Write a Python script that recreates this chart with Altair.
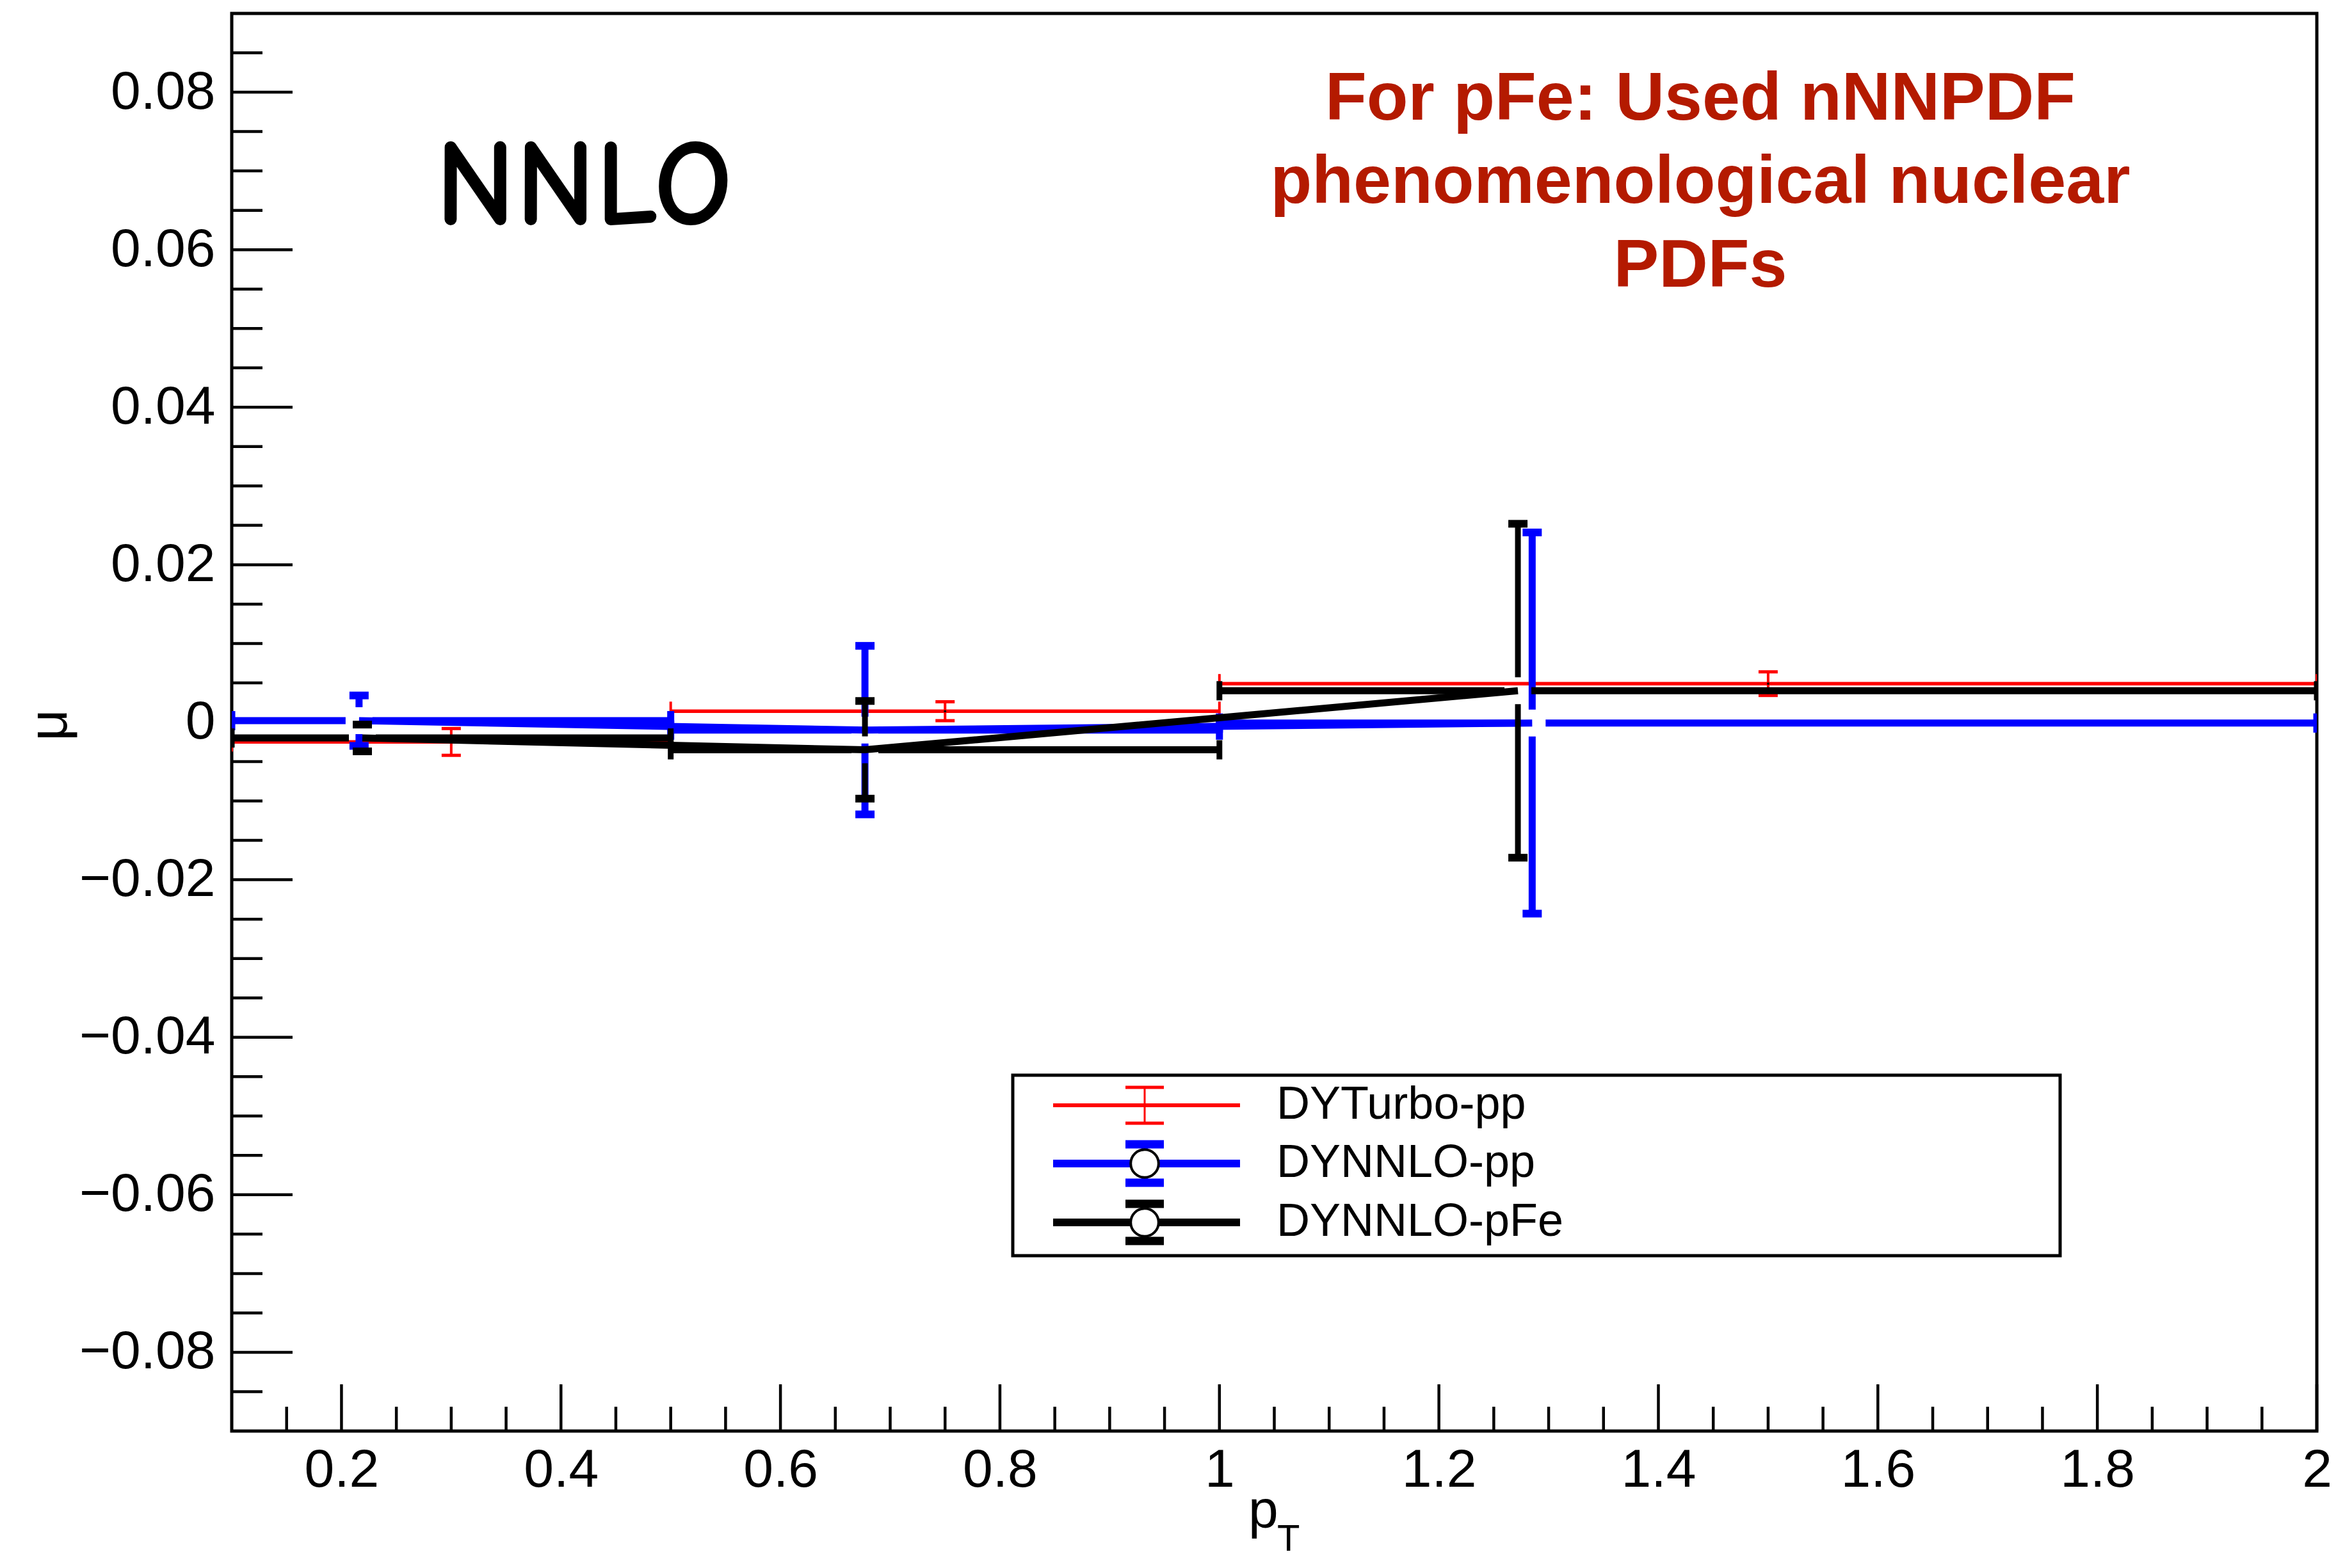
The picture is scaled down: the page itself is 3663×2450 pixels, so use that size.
import altair as alt
import pandas as pd

# ---------------- data ----------------
bin_lo = [0.1, 0.5, 1.0]
bin_hi = [0.5, 1.0, 2.0]

turbo_pp_x = [0.300, 0.750, 1.500]
turbo_pp_y = [-0.0025, 0.0014, 0.0049]
turbo_pp_err = [0.0017, 0.0012, 0.0015]

nnlo_pp_x = [0.216, 0.677, 1.285]
nnlo_pp_y = [0.0002, -0.0010, -0.0001]
nnlo_pp_err = [0.0032, 0.0107, 0.0242]

nnlo_pfe_x = [0.219, 0.677, 1.272]
nnlo_pfe_y = [-0.0020, -0.0035, 0.0040]
nnlo_pfe_err = [0.0017, 0.0062, 0.0212]

series_names = ["DYTurbo-pp", "DYNNLO-pp", "DYNNLO-pFe"]
series_colors = ["#ff0000", "#0000ff", "#000000"]

x_major = [0.2, 0.4, 0.6, 0.8, 1.0, 1.2, 1.4, 1.6, 1.8, 2.0]
x_minor = [0.15, 0.25, 0.3, 0.35, 0.45, 0.5, 0.55, 0.65, 0.7, 0.75, 0.85, 0.9,
           0.95, 1.05, 1.1, 1.15, 1.25, 1.3, 1.35, 1.45, 1.5, 1.55, 1.65, 1.7,
           1.75, 1.85, 1.9, 1.95]
y_major = [-0.08, -0.06, -0.04, -0.02, 0.0, 0.02, 0.04, 0.06, 0.08]
y_minor = [-0.085, -0.075, -0.07, -0.065, -0.055, -0.05, -0.045, -0.035, -0.03,
           -0.025, -0.015, -0.01, -0.005, 0.005, 0.01, 0.015, 0.025, 0.03, 0.035,
           0.045, 0.05, 0.055, 0.065, 0.07, 0.075, 0.085]

note_lines = ["For pFe: Used nNNPDF", "phenomenological nuclear", "PDFs"]
label_text = "NNLO"
x_title = "p"
x_title_sub = "T"
y_title = "μ"

# ---------------- layout / style ----------------
W, H = 3257, 2215
X_DOM = [0.1, 2.0]
Y_DOM = [-0.09, 0.09]
FONT = "Liberation Sans, Arial, Helvetica, sans-serif"
xs = alt.Scale(domain=X_DOM, nice=False, zero=False)
ys = alt.Scale(domain=Y_DOM, nice=False, zero=False)

GAP_PX = 21
gx = GAP_PX / W * (X_DOM[1] - X_DOM[0])
gy = GAP_PX / H * (Y_DOM[1] - Y_DOM[0])

styles = [
    dict(hw=5.5, vw=4, capt=5, caps=30, connect=False, gap=False, dot=True),
    dict(hw=11, vw=11, capt=12, caps=30, connect=True, gap=True, dot=False),
    dict(hw=11, vw=9, capt=12, caps=30, connect=True, gap=True, dot=False),
]
series_data = [
    (turbo_pp_x, turbo_pp_y, turbo_pp_err),
    (nnlo_pp_x, nnlo_pp_y, nnlo_pp_err),
    (nnlo_pfe_x, nnlo_pfe_y, nnlo_pfe_err),
]

# shared axes (identical object on every layer so they merge)
y_axis = alt.Axis(values=y_major,
                  labelExpr="datum.value == 0 ? '0' : format(datum.value, '.2f')",
                  labelFont=FONT, labelFontSize=84, labelColor="black",
                  labelPadding=26, ticks=False, domain=False, grid=False,
                  title=None, labelFlush=False, labelOverlap=False, labelLimit=600)
x_axis = alt.Axis(values=x_major,
                  labelExpr="format(datum.value, '.1~f')",
                  labelFont=FONT, labelFontSize=84, labelColor="black",
                  labelPadding=20, ticks=False, domain=False, grid=False,
                  title=None, labelFlush=False, labelOverlap=False, labelLimit=600)


def X(field):
    return alt.X(field, scale=xs, axis=x_axis)


def Y(field):
    return alt.Y(field, scale=ys, axis=y_axis)


layers = []

# ---------------- inward ticks (ROOT style) ----------------
layers.append(alt.Chart(pd.DataFrame({"v": y_major})).mark_rule(color="black", strokeWidth=4.5).encode(
    y=Y("v:Q"), x=alt.value(0), x2=alt.value(95)))
layers.append(alt.Chart(pd.DataFrame({"v": y_minor})).mark_rule(color="black", strokeWidth=4.5).encode(
    y=Y("v:Q"), x=alt.value(0), x2=alt.value(48)))
layers.append(alt.Chart(pd.DataFrame({"v": x_major})).mark_rule(color="black", strokeWidth=4.5).encode(
    x=X("v:Q"), y=alt.value(H), y2=alt.value(H - 73)))
layers.append(alt.Chart(pd.DataFrame({"v": x_minor})).mark_rule(color="black", strokeWidth=4.5).encode(
    x=X("v:Q"), y=alt.value(H), y2=alt.value(H - 38)))

# ---------------- data series ----------------
for name, color, st, (sx, sy, se) in zip(series_names, series_colors, styles, series_data):
    h_rows, v_rows, ycap_rows, xcap_rows, pt_rows = [], [], [], [], []
    for i, (x, y, e, lo, hi) in enumerate(zip(sx, sy, se, bin_lo, bin_hi)):
        if st["gap"]:
            h_rows += [dict(x1=lo, x2=x - gx, y=y), dict(x1=x + gx, x2=hi, y=y)]
            if e > gy:
                v_rows += [dict(x=x, y1=y - e, y2=y - gy), dict(x=x, y1=y + gy, y2=y + e)]
        else:
            h_rows.append(dict(x1=lo, x2=hi, y=y))
            v_rows.append(dict(x=x, y1=y - e, y2=y + e))
        ycap_rows += [dict(x=x, y=y - e), dict(x=x, y=y + e)]
        xcap_rows += [dict(x=lo, y=y), dict(x=hi, y=y)]
        pt_rows.append(dict(i=i, x=x, y=y))

    layers.append(alt.Chart(pd.DataFrame(h_rows)).mark_rule(
        color=color, strokeWidth=st["hw"], strokeCap="butt", clip=True).encode(
        x=X("x1:Q"), x2="x2:Q", y=Y("y:Q")))
    if v_rows:
        layers.append(alt.Chart(pd.DataFrame(v_rows)).mark_rule(
            color=color, strokeWidth=st["vw"], strokeCap="butt", clip=True).encode(
            x=X("x:Q"), y=Y("y1:Q"), y2="y2:Q"))
    layers.append(alt.Chart(pd.DataFrame(ycap_rows)).mark_tick(
        orient="horizontal", size=st["caps"], thickness=st["capt"], color=color,
        opacity=1, clip=True).encode(x=X("x:Q"), y=Y("y:Q")))
    layers.append(alt.Chart(pd.DataFrame(xcap_rows)).mark_tick(
        orient="vertical", size=st["caps"], thickness=st["vw"], color=color,
        opacity=1, clip=True).encode(x=X("x:Q"), y=Y("y:Q")))
    if st["connect"]:
        layers.append(alt.Chart(pd.DataFrame(pt_rows)).mark_line(
            color=color, strokeWidth=st["hw"], clip=True).encode(
            x=X("x:Q"), y=Y("y:Q"), order="i:Q"))
    if st["dot"]:
        layers.append(alt.Chart(pd.DataFrame(pt_rows)).mark_point(
            filled=True, color="black", size=14, opacity=1, clip=True).encode(
            x=X("x:Q"), y=Y("y:Q")))

# ---------------- legend (drawn in pixel space) ----------------
one = pd.DataFrame({"a": [0]})
LX1, LX2, LY1, LY2 = 1220, 2856, 1659, 1941
layers.append(alt.Chart(one).mark_rect(fill="white", stroke="black", strokeWidth=5).encode(
    x=alt.value(LX1), x2=alt.value(LX2), y=alt.value(LY1), y2=alt.value(LY2)))
row_y = [1706, 1797, 1889]
leg_style = [
    dict(lw=6, vw=3, ch=28, capt=5, capw=30, circle=False),
    dict(lw=12, vw=10, ch=30, capt=13, capw=30, circle=True),
    dict(lw=12, vw=10, ch=29, capt=13, capw=30, circle=True),
]
SYM_X = 1426
for name, color, ry, ls in zip(series_names, series_colors, row_y, leg_style):
    layers.append(alt.Chart(one).mark_rule(color=color, strokeWidth=ls["lw"], strokeCap="butt").encode(
        x=alt.value(1283), x2=alt.value(1575), y=alt.value(ry)))
    layers.append(alt.Chart(one).mark_rule(color=color, strokeWidth=ls["vw"], strokeCap="butt").encode(
        x=alt.value(SYM_X), y=alt.value(ry - ls["ch"]), y2=alt.value(ry + ls["ch"])))
    for sgn in (-1, 1):
        layers.append(alt.Chart(one).mark_rule(color=color, strokeWidth=ls["capt"], strokeCap="butt").encode(
            x=alt.value(SYM_X - ls["capw"]), x2=alt.value(SYM_X + ls["capw"]),
            y=alt.value(ry + sgn * ls["ch"])))
    if ls["circle"]:
        layers.append(alt.Chart(one).mark_point(
            shape="circle", filled=True, fill="white", stroke="black", strokeWidth=4,
            size=1900, opacity=1).encode(x=alt.value(SYM_X), y=alt.value(ry)))
    layers.append(alt.Chart(one).mark_text(
        text=name, font=FONT, fontSize=72, color="black", align="left",
        baseline="alphabetic").encode(x=alt.value(1632), y=alt.value(ry + 21)))

# ---------------- annotations and titles ----------------
layers.append(alt.Chart(one).mark_text(
    text=label_text, font="Comic Sans MS, Comic Neue, Liberation Sans, sans-serif",
    fontSize=192, fontWeight="bold", color="black", align="center",
    baseline="alphabetic").encode(x=alt.value(550), y=alt.value(330)))
for line, by in zip(note_lines, [166, 296, 427]):
    layers.append(alt.Chart(one).mark_text(
        text=line, font=FONT, fontSize=106, fontWeight="bold", color="#b41a00",
        align="center", baseline="alphabetic").encode(x=alt.value(2294), y=alt.value(by)))

layers.append(alt.Chart(one).mark_text(
    text=x_title, font=FONT, fontSize=84, color="black", align="left",
    baseline="alphabetic").encode(x=alt.value(1588), y=alt.value(2366)))
layers.append(alt.Chart(one).mark_text(
    text=x_title_sub, font=FONT, fontSize=58, color="black", align="left",
    baseline="alphabetic").encode(x=alt.value(1633), y=alt.value(2402)))
layers.append(alt.Chart(one).mark_text(
    text=y_title, font=FONT, fontSize=86, color="black", align="center",
    baseline="alphabetic", angle=270).encode(x=alt.value(-258), y=alt.value(1112)))

chart = alt.layer(*layers).properties(
    width=W, height=H,
    padding={"left": 354, "top": 13, "right": 36, "bottom": 206},
    autosize=alt.AutoSizeParams(type="none"),
    background="white",
).configure_view(stroke="black", strokeWidth=5)

chart.save("out.html", embed_options={"renderer": "svg", "actions": False})
